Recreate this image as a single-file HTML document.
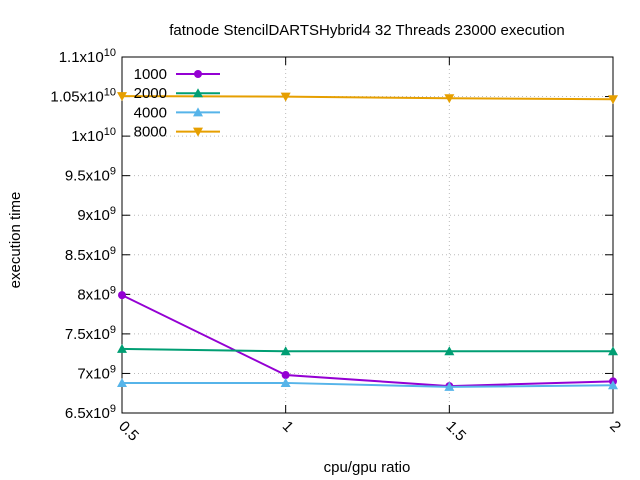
<!DOCTYPE html>
<html><head><meta charset="utf-8"><style>
body{margin:0;background:#fff}
svg{display:block;font-family:"Liberation Sans",sans-serif}
</style></head><body>
<svg id="chart" width="640" height="480">
<text x="367" y="35" font-size="15" text-anchor="middle">fatnode StencilDARTSHybrid4 32 Threads 23000 execution</text>
<text x="367" y="472" font-size="15" text-anchor="middle">cpu/gpu ratio</text>
<text transform="translate(20,240) rotate(-90)" font-size="15" text-anchor="middle">execution time</text>
<g id="grid"></g><g id="axes"></g><g id="series"></g><g id="legend"></g>
</svg>
<script>
const xCats=[0.5,1,1.5,2];
const xTickLabels=["0.5","1","1.5","2"];
const yTicks=[6.5,7,7.5,8,8.5,9,9.5,10,10.5,11];
const yTickMant=["6.5","7","7.5","8","8.5","9","9.5","1","1.05","1.1"];
const yTickExp=["9","9","9","9","9","9","9","10","10","10"];
const seriesNames=["1000","2000","4000","8000"];
const s1000=[7.99e9,6.98e9,6.84e9,6.90e9];
const s2000=[7.31e9,7.28e9,7.28e9,7.28e9];
const s4000=[6.88e9,6.88e9,6.83e9,6.85e9];
const s8000=[1.0505e10,1.0499e10,1.0478e10,1.0466e10];
const colors=["#9400d3","#009e73","#56b4e9","#e69f00"];
const markers=["circle","up","up","down"];
const L=122,R=613,T=57,B=413;
const xs=v=>L+(v-0.5)/1.5*(R-L);
const ys=v=>B-(v-6.5e9)/4.5e9*(B-T);
const NS="http://www.w3.org/2000/svg";
function mk(tag,attrs,parent){const e=document.createElementNS(NS,tag);for(const k in attrs)e.setAttribute(k,attrs[k]);parent.appendChild(e);return e;}
const grid=document.getElementById('grid'),axes=document.getElementById('axes'),ser=document.getElementById('series'),leg=document.getElementById('legend');
yTicks.forEach((t,i)=>{const y=ys(t*1e9);
 if(i>0&&i<yTicks.length-1){const g=mk('line',{x1:L,x2:R,y1:y,y2:y,stroke:'#bbb','stroke-dasharray':'1,3'},grid);
 
 }
 mk('line',{x1:L,x2:L+8,y1:y,y2:y,stroke:'#000'},axes);
 mk('line',{x1:R-8,x2:R,y1:y,y2:y,stroke:'#000'},axes);
 const tx=mk('text',{x:L-6,y:y+5,'font-size':15,'text-anchor':'end'},axes);
 
 
 tx.innerHTML=yTickMant[i]+'x10<tspan dy="-6" font-size="11">'+yTickExp[i]+'</tspan>';
});
xCats.forEach((c,i)=>{const x=xs(c);
 if(i>0&&i<xCats.length-1){const g=mk('line',{x1:x,x2:x,y1:T,y2:B,stroke:'#bbb','stroke-dasharray':'1,3'},grid);
 
 }
 mk('line',{x1:x,x2:x,y1:B,y2:B-8,stroke:'#000'},axes);
 mk('line',{x1:x,x2:x,y1:T,y2:T+8,stroke:'#000'},axes);
 const tx=mk('text',{transform:`translate(${x-4},${B+14}) rotate(45)`,'font-size':15},axes);
 
 
 tx.textContent=xTickLabels[i];
});
const fr=mk('rect',{x:L,y:T,width:R-L,height:B-T,fill:'none',stroke:'#000'},axes);


function marker(type,x,y,c,p){
 if(type==='circle')return mk('circle',{cx:x,cy:y,r:4,fill:c},p);
 if(type==='up')return mk('polygon',{points:`${x-5},${y+4} ${x+5},${y+4} ${x},${y-5}`,fill:c},p);
 return mk('polygon',{points:`${x-5},${y-4} ${x+5},${y-4} ${x},${y+5}`,fill:c},p);
}
[s1000,s2000,s4000,s8000].forEach((vals,si)=>{
 const g=mk('g',{},ser);
 
 
 const pl=mk('polyline',{points:vals.map((v,i)=>xs(xCats[i])+','+ys(v)).join(' '),fill:'none',stroke:colors[si],'stroke-width':2},g);
 
 
 vals.forEach((v,i)=>{const m=marker(markers[si],xs(xCats[i]),ys(v),colors[si],g);
  
  });
 const ly=74+19.2*si;
 const le=mk('g',{},leg);
 
 
 const t=mk('text',{x:167,y:ly+5,'font-size':15,'text-anchor':'end'},le);t.textContent=seriesNames[si];
 mk('line',{x1:176,x2:220,y1:ly,y2:ly,stroke:colors[si],'stroke-width':2},le);
 marker(markers[si],198,ly,colors[si],le);
});
</script>
</body></html>
